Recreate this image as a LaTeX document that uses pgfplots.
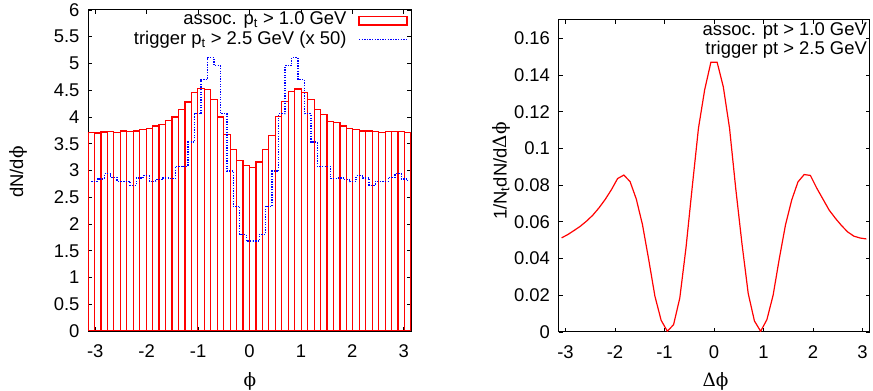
\documentclass[border=0pt]{standalone}
\usepackage{fontspec}
\setmainfont{Liberation Sans}
\newfontfamily\grk{DejaVu Serif}
\usepackage{pgfplots}
\pgfplotsset{compat=1.18}
\usepackage{pgfplotstable}

\pgfplotstableread{
x y
-3.07876 3.71
-2.95310 3.70
-2.82743 3.72
-2.70177 3.725
-2.57611 3.71
-2.45044 3.74
-2.32478 3.725
-2.19911 3.74
-2.07345 3.76
-1.94779 3.79
-1.82212 3.83
-1.69646 3.86
-1.57080 3.94
-1.44513 4.00
-1.31947 4.14
-1.19381 4.28
-1.06814 4.46
-0.94248 4.53
-0.81681 4.51
-0.69115 4.325
-0.56549 4.00
-0.43982 3.67
-0.31416 3.39
-0.18850 3.18
-0.06283 3.09
0.06283 3.06
0.18850 3.16
0.31416 3.39
0.43982 3.66
0.56549 4.01
0.69115 4.29
0.81681 4.475
0.94248 4.525
1.06814 4.46
1.19381 4.325
1.31947 4.14
1.44513 4.04
1.57080 3.92
1.69646 3.89
1.82212 3.83
1.94779 3.79
2.07345 3.76
2.19911 3.74
2.32478 3.74
2.45044 3.725
2.57611 3.71
2.70177 3.73
2.82743 3.73
2.95310 3.725
3.07876 3.71
}\assoc

\pgfplotstableread{
x y
-3.07876 2.80
-2.95310 2.84
-2.82743 2.94
-2.70177 2.875
-2.57611 2.80
-2.45044 2.80
-2.32478 2.725
-2.19911 2.86
-2.07345 2.90
-1.94779 2.79
-1.82212 2.83
-1.69646 2.86
-1.57080 2.85
-1.44513 3.08
-1.31947 3.08
-1.19381 3.53
-1.06814 4.06
-0.94248 4.70
-0.81681 5.11
-0.69115 4.96
-0.56549 4.06
-0.43982 2.99
-0.31416 2.33
-0.18850 1.81
-0.06283 1.68
0.06283 1.68
0.18850 1.81
0.31416 2.33
0.43982 2.99
0.56549 4.06
0.69115 4.96
0.81681 5.11
0.94248 4.70
1.06814 4.06
1.19381 3.53
1.31947 3.08
1.44513 3.08
1.57080 2.85
1.69646 2.86
1.82212 2.83
1.94779 2.79
2.07345 2.90
2.19911 2.86
2.32478 2.725
2.45044 2.80
2.57611 2.80
2.70177 2.875
2.82743 2.94
2.95310 2.84
3.07876 2.80
}\trig

\pgfplotstableread{
x y
-3.07876 0.0513
-2.95310 0.0531
-2.82743 0.0553
-2.70177 0.0576
-2.57611 0.0604
-2.45044 0.0636
-2.32478 0.0676
-2.19911 0.0722
-2.07345 0.0775
-1.94779 0.0836
-1.82212 0.0855
-1.69646 0.0820
-1.57080 0.0725
-1.44513 0.0585
-1.31947 0.0395
-1.19381 0.0195
-1.06814 0.0064
-0.94248 0.0004
-0.81681 0.0040
-0.69115 0.0185
-0.56549 0.0460
-0.43982 0.0790
-0.31416 0.1110
-0.18850 0.1320
-0.06283 0.1470
0.06283 0.1470
0.18850 0.1335
0.31416 0.1110
0.43982 0.0780
0.56549 0.0480
0.69115 0.0210
0.81681 0.0060
0.94248 0.0004
1.06814 0.0067
1.19381 0.0200
1.31947 0.0400
1.44513 0.0585
1.57080 0.0720
1.69646 0.0818
1.82212 0.0858
1.94779 0.0853
2.07345 0.0785
2.19911 0.0725
2.32478 0.0665
2.45044 0.0620
2.57611 0.0580
2.70177 0.0545
2.82743 0.0522
2.95310 0.0512
3.07876 0.0507
}\corr

\begin{document}
\begin{tikzpicture}[font=\fontsize{18.5}{22}\selectfont]
\path[use as bounding box] (0,0) rectangle (873bp,391bp);
\pgfplotsset{
  gp/.style={
    scale only axis,
    anchor=south west,
    tick align=inside,
    xtick pos=both, ytick pos=both,
    major tick length=4bp,
    tick style={black, line width=0.8bp},
    axis line style={black, line width=1bp},
    xticklabel style={yshift=-10bp},
    yticklabel style={xshift=-5bp},
    /pgf/number format/assume math mode=true,
  }
}
\begin{axis}[gp,
  at={(88bp,60bp)}, width=323bp, height=321bp,
  xmin=-3.14159, xmax=3.14159, ymin=0, ymax=6,
  xtick={-3,-2,-1,0,1,2,3}, xticklabels={-3,-2,-1,0,1,2,3},
  ytick={0,0.5,1,1.5,2,2.5,3,3.5,4,4.5,5,5.5,6},
  yticklabels={0,0.5,1,1.5,2,2.5,3,3.5,4,4.5,5,5.5,6},
  xlabel={{\grk ϕ}}, ylabel={dN/d{\grk ϕ}},
  xlabel style={at={(axis description cs:0.5015,-0.156)}, anchor=center},
  ylabel style={at={(axis description cs:-0.2167,0.495)}, anchor=center},
]
\addplot[ybar, bar width=0.1256637, bar shift=0pt, draw=red, fill=none, line width=1.2bp]
  table {\assoc};
\addplot[const plot, blue, line width=1.3bp, dash pattern=on 1.3bp off 1.3bp]
  table {\trig};
% key (legend)
\node[anchor=base east, inner sep=0pt] at (axis description cs:0.801,0.9533)
  {assoc. p\textsubscript{t} > 1.0 GeV};
\node[anchor=base east, inner sep=0pt] at (axis description cs:0.801,0.8925)
  {trigger p\textsubscript{t} > 2.5 GeV (x 50)};
\draw[red, line width=1.2bp] (axis description cs:0.839,0.9533) rectangle (axis description cs:0.9876,0.9791);
\draw[blue, line width=1.3bp, dash pattern=on 1.3bp off 1.3bp] (axis description cs:0.839,0.9087) -- (axis description cs:0.9876,0.9087);
\end{axis}

\begin{axis}[gp,
  at={(558.5bp,59bp)}, width=311bp, height=312bp,
  xmin=-3.14159, xmax=3.14159, ymin=0, ymax=0.17,
  xtick={-3,-2,-1,0,1,2,3}, xticklabels={-3,-2,-1,0,1,2,3},
  ytick={0,0.02,0.04,0.06,0.08,0.1,0.12,0.14,0.16},
  yticklabels={0,0.02,0.04,0.06,0.08,0.1,0.12,0.14,0.16},
  xlabel={{\grk Δϕ}}, ylabel={1/N\textsubscript{t}dN/d{\grk Δϕ}},
  xlabel style={at={(axis description cs:0.505,-0.157)}, anchor=center},
  ylabel style={at={(axis description cs:-0.183,0.516)}, anchor=center},
]
\addplot[red, line width=1.2bp] table {\corr};
\node[anchor=north east, align=right, inner sep=0pt, font=\fontsize{18.5}{17}\selectfont]
  at (axis description cs:0.992,0.991) {assoc. pt > 1.0 GeV\\trigger pt > 2.5 GeV};
\end{axis}
\end{tikzpicture}
\end{document}
